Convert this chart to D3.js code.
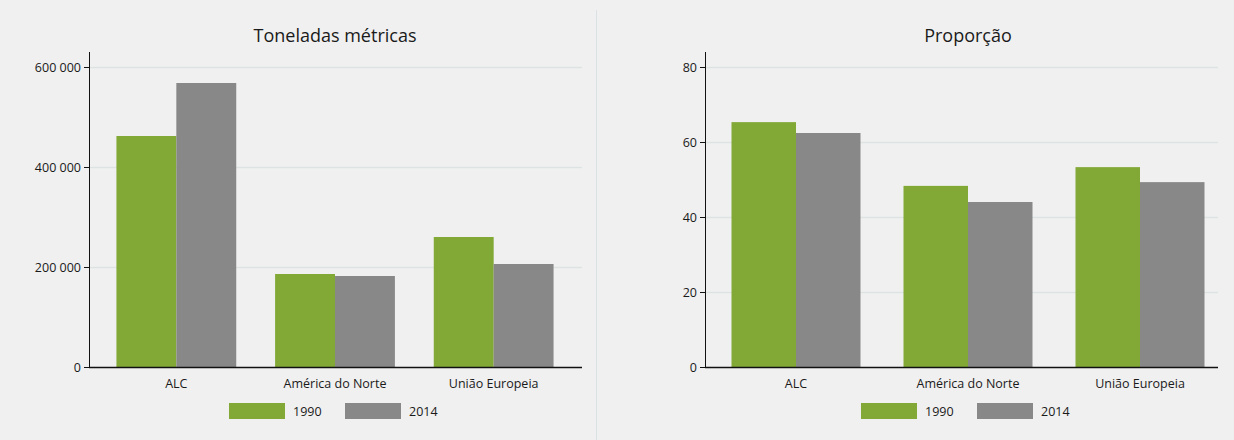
<!DOCTYPE html>
<html>
<head>
<meta charset="utf-8">
<script src="https://d3js.org/d3.v7.min.js"></script>
<style>
  body { margin:0; background:#f0f0f0; }
  text { font-family: "Open Sans", "Noto Sans", sans-serif; fill:#1a1a1a; }
</style>
</head>
<body>
<div id="chart"></div>
<script>
var regions = ["ALC", "América do Norte", "União Europeia"];
var years = ["1990", "2014"];
var tonnes1990 = [462000, 186000, 260000];
var tonnes2014 = [568000, 182000, 206000];
var share1990 = [65.3, 48.3, 53.3];
var share2014 = [62.4, 44.0, 49.3];
var tonnesTicks = [0, 200000, 400000, 600000];
var shareTicks = [0, 20, 40, 60, 80];
var colors = ["#82a836", "#888888"];

var width = 1234, height = 440;
var svg = d3.select("#chart").append("svg")
  .attr("width", width).attr("height", height);

svg.append("rect").attr("width", width).attr("height", height).attr("fill", "#f0f0f0");

// divider
svg.append("line")
  .attr("x1", 596.5).attr("x2", 596.5).attr("y1", 10).attr("y2", height)
  .attr("stroke", "#dbe2e5").attr("stroke-width", 1);

var fmt = function(v){ return d3.format(",")(v).replace(/,/g, " "); };

function panel(opt) {
  var g = svg.append("g");
  var y = d3.scaleLinear().domain(opt.domain).range([367, 67]);
  var x = d3.scaleBand().domain(regions).range(opt.xr)
    .paddingInner(opt.pad).paddingOuter(opt.pad / 2);
  var x2 = d3.scaleBand().domain(years).range([0, x.bandwidth()]);

  // grid
  g.selectAll(".grid").data(opt.ticks.slice(1)).enter().append("line")
    .attr("x1", opt.left).attr("x2", opt.right)
    .attr("y1", function(d){ return Math.round(y(d)) + 0.5; })
    .attr("y2", function(d){ return Math.round(y(d)) + 0.5; })
    .attr("stroke", "#dde3e3").attr("stroke-width", 1.5);

  var rows = regions.map(function(r, i){
    return { region: r, vals: [opt.a[i], opt.b[i]] };
  });
  var grp = g.selectAll(".grp").data(rows).enter().append("g")
    .attr("transform", function(d){ return "translate(" + x(d.region) + ",0)"; });
  grp.selectAll("rect").data(function(d){ return d.vals; }).enter().append("rect")
    .attr("x", function(d, i){ return x2(years[i]); })
    .attr("width", x2.bandwidth())
    .attr("y", function(d){ return y(d); })
    .attr("height", function(d){ return y(0) - y(d); })
    .attr("fill", function(d, i){ return colors[i]; });

  // y axis
  var ya = g.append("g").attr("transform", "translate(" + opt.left + ",0)")
    .call(d3.axisLeft(y).tickValues(opt.ticks).tickFormat(opt.fmt).tickSize(5).tickPadding(3));
  ya.select(".domain").attr("d", "M0.5,52V367.5").attr("stroke", "#111");
  ya.selectAll(".tick line").attr("stroke", "#111");
  ya.selectAll("text").style("font-size", "12.5px").attr("fill", "#1a1a1a");

  // x axis line
  g.append("line").attr("x1", opt.left).attr("x2", opt.right)
    .attr("y1", 367.5).attr("y2", 367.5).attr("stroke", "#111").attr("stroke-width", 1.5);
  g.selectAll(".xl").data(regions).enter().append("text")
    .attr("x", function(d){ return x(d) + x.bandwidth() / 2; })
    .attr("y", 388).attr("text-anchor", "middle").style("font-size", "12.5px")
    .text(function(d){ return d; });

  g.append("text").attr("x", opt.title_x).attr("y", 42).attr("text-anchor", "middle")
    .style("font-size", "18px").text(opt.title);

  // legend
  years.forEach(function(yr, i){
    var lx = opt.legend + i * 116;
    g.append("rect").attr("x", lx).attr("y", 403).attr("width", 56).attr("height", 16)
      .attr("fill", colors[i]);
    g.append("text").attr("x", lx + 64).attr("y", 416).style("font-size", "12.5px").text(yr);
  });
}

panel({ domain: [0, 600000], ticks: tonnesTicks, fmt: fmt, a: tonnes1990, b: tonnes2014,
  xr: [97, 573], pad: 0.245, left: 89, right: 582, title: "Toneladas métricas",
  title_x: 335, legend: 229 });
panel({ domain: [0, 80], ticks: shareTicks, fmt: d3.format("d"), a: share1990, b: share2014,
  xr: [710, 1226], pad: 0.25, left: 705, right: 1218, title: "Proporção",
  title_x: 968, legend: 861 });
</script>
</body>
</html>
